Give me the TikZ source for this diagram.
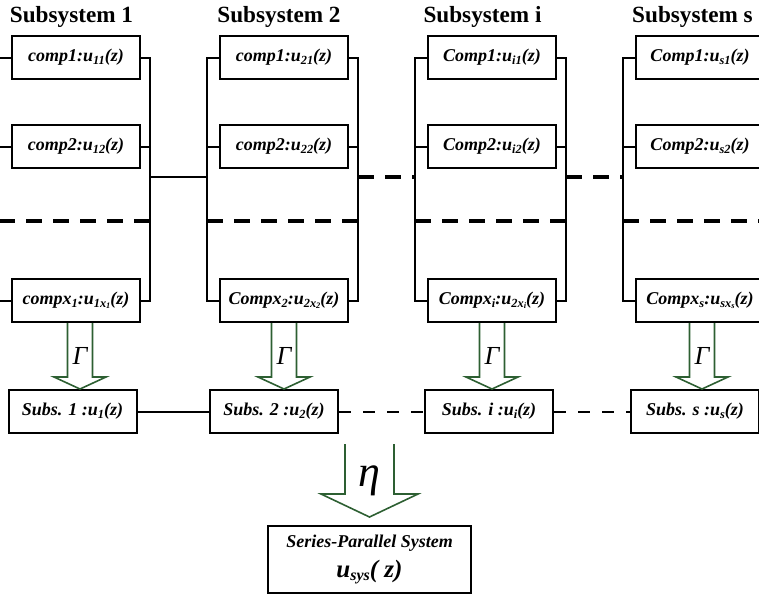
\documentclass[tikz,border=0pt]{standalone}
\usepackage{fontspec}
\setmainfont{Liberation Serif}
\usetikzlibrary{calc, positioning}

\definecolor{arrowgreen}{RGB}{45,95,50}

% small subscripts inside the bold italic labels
\newcommand{\low}[1]{\raisebox{-0.3ex}{\fontsize{6.2}{6}\selectfont #1}}
\newcommand{\lowlow}[1]{\raisebox{-0.3ex}{\fontsize{4.2}{4}\selectfont #1}}

% hollow block arrow pointing down: top, tip, half shaft, half head, head length, label
\newcommand{\blockdown}[6]{%
  \draw[blockarrow] ($(#1)+(-#3,0)$) -- ($(#2)+(-#3,#5)$) -- ($(#2)+(-#4,#5)$)
    -- (#2) -- ($(#2)+(#4,#5)$) -- ($(#2)+(#3,#5)$) -- ($(#1)+(#3,0)$);
  \node (#1-lab) at ($(#1)!0.5!(#2)$) {#6};}

\begin{document}
\begin{tikzpicture}[
  x=0.5pt, y=-0.5pt,
  node distance=22pt and 39pt,
  wire/.style={line width=1pt},
  bigdash/.style={line width=1.6pt, dash pattern=on 8pt off 5.5pt},
  smalldash/.style={line width=1pt, dash pattern=on 6pt off 6pt},
  title/.style={anchor=base, font=\fontsize{11.6}{14}\selectfont\bfseries},
  comp/.style={draw, line width=1pt, minimum width=64pt, minimum height=21.5pt,
               inner sep=2pt, font=\fontsize{9}{11}\selectfont\bfseries\itshape},
  subs/.style={comp},
  sysbox/.style={comp, minimum width=101.5pt, minimum height=33.5pt, align=center},
  blockarrow/.style={draw=arrowgreen, line width=0.8pt, line join=miter}
]
\useasboundingbox (0,0) rectangle (759,595);
\coordinate (mid) at (0,221);
\coordinate (link) at (0,177);

% titles
\node[title] (t1) at (71.5,22) {Subsystem 1};
\node[title] (t2) at (279,22) {Subsystem 2};
\node[title] (ti) at (482.5,22) {Subsystem i};
\node[title] (ts) at (692.5,22) {Subsystem s};

% components of each subsystem
\node[comp] (c11) at (76,57.5) {comp1:u\low{11}(z)};
\node[comp, below=of c11] (c12) {comp2:u\low{12}(z)};
\node[comp, below=54.5pt of c12] (c1x) {compx\low{1}:u\low{1x\lowlow{1}}(z)};

\node[comp, right=of c11] (c21) {comp1:u\low{21}(z)};
\node[comp, below=of c21] (c22) {comp2:u\low{22}(z)};
\node[comp, below=54.5pt of c22] (c2x) {Compx\low{2}:u\low{2x\lowlow{2}}(z)};

\node[comp, right=of c21] (ci1) {Comp1:u\low{i1}(z)};
\node[comp, below=of ci1] (ci2) {Comp2:u\low{i2}(z)};
\node[comp, below=54.5pt of ci2] (cix) {Compx\low{i}:u\low{2x\lowlow{i}}(z)};

\node[comp, right=of ci1] (cs1) {Comp1:u\low{s1}(z)};
\node[comp, below=of cs1] (cs2) {Comp2:u\low{s2}(z)};
\node[comp, below=54.5pt of cs2] (csx) {Compx\low{s}:u\low{sx\lowlow{s}}(z)};

% equivalent subsystems
\node[subs] (u1) at (72.5,411.5) {Subs. 1 :u\low{1}(z)};
\node[subs] (u2) at (274,411.5) {Subs. 2 :u\low{2}(z)};
\node[subs] (ui) at (489,411.5) {Subs. i :u\low{i}(z)};
\node[subs] (us) at (695,411.5) {Subs. s :u\low{s}(z)};

% whole system
\node[sysbox] (sys) at (369.5,559.5) {Series-Parallel System\\[4pt]
  {\fontsize{12.5}{14}\selectfont u\raisebox{-0.3ex}{\fontsize{8}{8}\selectfont sys}( z)}};

% parallel buses
\draw[wire] (c11.west) -- ++(-12,0) coordinate (l1) |- (c1x.west);
\draw[wire] (c12.west) -- (c12.west -| l1);
\draw[wire] (c11.east) -- ++(9,0) coordinate (r1) |- (c1x.east);
\draw[wire] (c12.east) -- (c12.east -| r1);
\draw[bigdash] (l1 |- mid) -- (r1 |- mid);

\draw[wire] (c21.west) -- ++(-12,0) coordinate (l2) |- (c2x.west);
\draw[wire] (c22.west) -- (c22.west -| l2);
\draw[wire] (c21.east) -- ++(9,0) coordinate (r2) |- (c2x.east);
\draw[wire] (c22.east) -- (c22.east -| r2);
\draw[bigdash] (l2 |- mid) -- (r2 |- mid);

\draw[wire] (ci1.west) -- ++(-12,0) coordinate (li) |- (cix.west);
\draw[wire] (ci2.west) -- (ci2.west -| li);
\draw[wire] (ci1.east) -- ++(9,0) coordinate (ri) |- (cix.east);
\draw[wire] (ci2.east) -- (ci2.east -| ri);
\draw[bigdash] (li |- mid) -- (ri |- mid);

\draw[wire] (cs1.west) -- ++(-12,0) coordinate (ls) |- (csx.west);
\draw[wire] (cs2.west) -- (cs2.west -| ls);
\draw[wire] (cs1.east) -- ++(9,0) coordinate (rs) |- (csx.east);
\draw[wire] (cs2.east) -- (cs2.east -| rs);
\draw[bigdash] (ls |- mid) -- (rs |- mid);

% series links
\draw[wire] (r1 |- link) -- (l2 |- link);
\draw[bigdash] (r2 |- link) -- (li |- link);
\draw[bigdash] (ri |- link) -- (ls |- link);

\draw[wire] (u1.east) -- (u2.west);
\draw[smalldash] (u2.east) -- (ui.west);
\draw[smalldash] (ui.east) -- (us.west);

% Gamma operators
\coordinate (g1a) at ($(c1x.south)+(2pt,0)$);
\coordinate (g1b) at (g1a |- u1.north);
\blockdown{g1a}{g1b}{6.25pt}{13pt}{6pt}{\fontsize{13}{13}\selectfont\itshape Γ}
\coordinate (g2a) at (c2x.south);
\coordinate (g2b) at (g2a |- u2.north);
\blockdown{g2a}{g2b}{6.25pt}{13pt}{6pt}{\fontsize{13}{13}\selectfont\itshape Γ}
\coordinate (gia) at (cix.south);
\coordinate (gib) at (gia |- ui.north);
\blockdown{gia}{gib}{6.25pt}{13pt}{6pt}{\fontsize{13}{13}\selectfont\itshape Γ}
\coordinate (gsa) at ($(csx.south)+(1pt,0)$);
\coordinate (gsb) at (gsa |- us.north);
\blockdown{gsa}{gsb}{6.25pt}{13pt}{6pt}{\fontsize{13}{13}\selectfont\itshape Γ}

% eta operator
\coordinate (eb) at ($(sys.north)+(0,4pt)$);
\coordinate (ea) at ($(eb)+(0,36.5pt)$);
\blockdown{ea}{eb}{12.25pt}{24.25pt}{11.5pt}{\fontsize{22}{22}\selectfont\itshape η}
\end{tikzpicture}
\end{document}
